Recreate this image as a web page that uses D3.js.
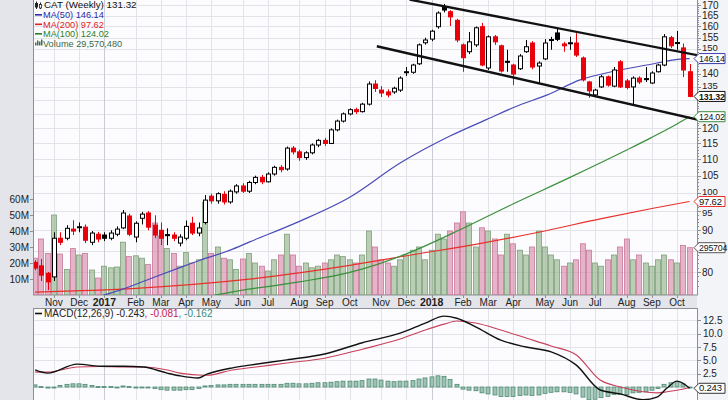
<!DOCTYPE html>
<html><head><meta charset="utf-8">
<script src="https://cdn.jsdelivr.net/npm/d3@7/dist/d3.min.js"></script>
<style>
html,body{margin:0;padding:0;background:#e3e5ea;}
svg{display:block;font-family:"Liberation Sans",Arial,sans-serif;}
</style></head><body>
<svg id="c" width="728" height="400"></svg>
<script>
// ---------- DATA ----------
const prevClose0 = 83.0;
const opens  = [82.2,81.4,79.7,78.9,88.0,88.0,90.3,90.9,90.8,87.0,89.0,88.8,88.0,89.0,90.6,93.7,88.3,93.1,94.5,91.3,90.0,88.9,88.8,86.8,88.0,91.8,89.3,92.0,
 99.1,97.8,99.6,97.5,100.3,102.0,100.5,103.0,104.5,103.2,105.5,107.5,107.0,113.5,112.3,110.5,112.0,114.5,116.0,115.0,119.5,122.5,125.0,126.5,125.8,128.5,136.0,
 133.7,133.0,133.0,133.7,140.8,140.6,144.0,152.8,154.4,159.9,169.0,166.8,162.8,151.9,149.0,151.9,159.9,142.3,155.4,151.5,145.0,143.5,142.0,149.0,152.7,143.1,
 146.0,154.2,157.1,152.3,152.8,152.7,146.4,136.8,131.9,134.9,138.8,135.2,144.8,137.2,134.9,138.3,138.1,136.4,140.8,143.5,155.0,152.9,150.6,140.8];
const highs  = [82.7,83.0,80.0,89.5,89.5,91.3,92.6,92.0,91.5,89.8,89.6,89.5,90.0,91.0,95.3,94.3,92.3,94.8,95.0,93.9,92.0,90.5,89.5,89.0,92.5,93.5,92.0,99.4,
 99.8,100.2,100.5,101.0,102.5,102.8,103.5,105.0,105.2,106.0,108.0,108.2,114.0,114.2,113.0,112.5,115.0,116.5,116.8,120.0,123.0,125.5,127.0,127.2,129.0,137.0,137.5,
 135.2,134.0,135.0,139.0,142.7,144.0,152.5,155.0,158.5,167.0,170.5,167.5,163.5,152.5,157.5,160.0,161.6,156.0,156.2,152.0,149.8,144.0,148.0,154.0,153.5,145.0,
 154.4,155.4,158.9,153.2,155.4,157.0,147.0,137.2,134.2,139.5,139.3,142.7,145.5,138.0,139.0,139.0,142.7,141.0,144.0,156.6,155.8,158.0,152.5,143.9];
const lows   = [80.4,78.0,76.0,78.0,86.3,87.5,88.8,89.5,86.8,86.3,87.0,87.3,87.5,88.5,90.3,88.5,87.0,91.5,90.0,88.0,86.3,86.3,87.3,86.0,87.5,88.8,88.5,91.5,
 97.0,97.0,96.8,97.0,99.8,100.0,100.0,102.5,102.5,103.0,105.0,106.0,106.5,111.5,109.5,109.8,111.5,113.8,114.2,114.8,119.0,122.0,124.5,125.0,125.5,128.0,133.0,
 131.1,131.0,132.3,133.0,139.1,140.0,143.5,152.0,153.5,159.0,166.5,160.2,153.0,140.8,148.0,151.0,143.0,141.5,151.9,140.5,140.8,135.6,141.5,148.5,141.8,136.4,
 145.5,149.8,153.5,149.0,149.8,146.8,137.0,130.8,131.5,134.5,135.0,134.8,134.5,134.0,128.2,136.0,136.8,136.0,140.5,143.0,150.5,149.8,138.7,131.0];
const closes = [80.9,79.3,77.8,88.0,87.0,90.5,89.8,90.8,87.5,89.3,87.8,88.0,89.3,90.3,94.5,89.0,91.8,94.2,90.8,88.8,88.0,88.8,88.0,88.3,91.0,89.3,90.6,98.0,
 97.8,99.8,97.5,100.5,102.0,100.5,103.0,104.5,103.2,105.5,107.5,106.8,113.5,112.3,110.5,112.0,114.5,116.0,115.0,119.5,122.5,125.0,126.5,125.8,128.5,136.0,134.3,
 132.6,131.9,134.4,138.3,140.6,143.5,151.9,154.0,157.9,166.2,167.6,164.4,154.0,146.5,153.2,159.4,143.5,155.4,153.2,141.1,144.7,139.9,147.2,151.1,142.7,144.3,
 152.7,154.0,154.3,151.5,152.6,147.6,137.6,133.4,133.7,138.8,135.6,141.5,134.9,134.7,138.3,136.8,137.9,140.3,143.5,155.4,151.5,152.7,141.5,131.32];
const volumes = [23,35,26,50,25.6,16,29,25,26,15.6,10.6,18,17,17.5,33,24,24.5,23,19,45,37,29,26,18,26.5,20,22,58,
 26,30,23,22,16,22.5,26,20,18,15,22,25,38,25,18,20,17,18,20,22,25,24,22,20,25,40,30,
 22,20,18,22,25,28,30,22,28,38,35,40,45,52,45,30,42,40,35,25,38,32,28,25,30,40,
 30,25,22,18,20,22,32,28,20,18,22,25,30,35,22,25,20,18,22,25,22,20,31,29.57];

// moving averages (bar index, value)
const ma50Idx = [10.8,13.5,18.3,23,26.2,31,34.1,42,50,58,66,71.8,77,81.3,86.6,91.8,97.2,102.5,104];
const ma50Val = [74.9,76.0,78.5,81.0,82.7,85.1,87.1,92.3,98.8,108.8,117.5,123.1,128.2,131.8,137.6,140.9,143.5,145.9,146.14];
const ma100Idx = [28,33,42,50,59,68,76,85,94,98,102,104];
const ma100Val = [74.8,76.0,77.8,79.9,84.2,90.5,97.0,104.5,112.9,117.0,121.5,124.02];
const ma200Idx = [0,16,34,50,60,70,80,90,98,104];
const ma200Val = [75.6,76.4,78.4,81.5,84.0,86.5,89.5,93.0,95.7,97.62];

// MACD lines (bar index, value)
const macdIdx = [0,2,6.7,10.3,14,17.2,21,23,25.9,27.3,31.4,34.1,40,46,52,58,62,65,67,70,74,78,82,86,89.8,93,96.6,98.8,100.4,102,104];
const macdVal = [3.2,2.6,4.3,3.9,3.9,3.75,2.6,2.1,1.7,2.4,3.6,4.1,5.1,6.2,8.3,10.1,12.0,13.3,12.9,11.3,8.8,7.5,6.6,4.1,-0.56,-1.3,-2.4,-1.9,-0.2,1.1,-0.243];
const signalVal = [2.8,2.8,3.75,3.85,3.75,3.75,3.2,2.6,2.25,2.2,3.2,3.6,4.5,5.4,7.1,9.0,10.7,11.8,12.4,12.0,10.7,9.2,7.7,6.0,1.3,0.0,-0.9,-1.1,-0.9,-0.6,-0.081];
const histVal = [0.4,0.1,-0.2,0.0,0.3,0.5,0.6,0.6,0.5,0.3,0.1,0.1,0.1,0.0,0.2,0.1,0.0,0.0,-0.1,-0.3,-0.5,-0.6,-0.6,-0.6,-0.5,-0.5,-0.3,0.2,
 0.3,0.4,0.4,0.5,0.5,0.5,0.5,0.5,0.5,0.5,0.5,0.5,0.7,0.7,0.6,0.6,0.7,0.8,0.8,0.9,1.0,1.1,1.1,1.1,1.2,1.5,1.5,
 1.3,1.1,1.0,1.1,1.1,1.2,1.5,1.7,1.9,2.1,2.0,1.4,0.5,-0.4,-0.6,-0.7,-1.1,-1.3,-1.5,-1.8,-1.8,-1.8,-1.6,-1.5,-1.6,-1.5,
 -1.2,-1.0,-0.9,-0.9,-1.0,-1.3,-1.9,-2.4,-2.3,-2.0,-1.8,-1.4,-1.4,-1.4,-1.1,-1.0,-0.9,-0.6,-0.3,0.5,0.8,1.0,0.6,-0.162];

// trend channel (bar index, price)
const upperLine = [[59.5,172.6],[106.3,147.0]];
const lowerLine = [[54.3,151.3],[106.3,122.5]];

const monthIdx = [3,7,11,16,20,24,28,33,37,42,46,50,55,59,63,68,72,76,81,85,89,94,98,102];
const monthLab = ["Nov","Dec","2017","Feb","Mar","Apr","May","Jun","Jul","Aug","Sep","Oct","Nov","Dec","2018","Feb","Mar","Apr","May","Jun","Jul","Aug","Sep","Oct"];
const priceTicks = [170,165,160,155,150,145,140,135,130,125,120,115,110,105,100,95,90,85,80];
const volTicks = [10,20,30,40,50,60];
const macdTicks = [12.5,10,7.5,5,2.5,0,-2.5];

// ---------- LAYOUT ----------
const svg = d3.select("#c");
const L = 33, R = 697, PB = 295, MT = 308, MB = 400;
const x = d3.scaleLinear().domain([0,104]).range([35.1,689.6]);
const yP = d3.scaleLog().domain([80,170]).range([272,5]);
const yV = d3.scaleLinear().domain([0,60]).range([295,199]);
const yM = d3.scaleLinear().domain([0,12.5]).range([387,320.4]);

const UP = "#000", DN = "#e8000b";
const prevC = i => i===0 ? prevClose0 : closes[i-1];

svg.append("rect").attr("x",0).attr("y",0).attr("width",728).attr("height",400).attr("fill","#e3e5ea");
svg.append("rect").attr("x",R).attr("y",0).attr("width",31).attr("height",400).attr("fill","#f3f4f7");
svg.append("rect").attr("x",L+0.5).attr("y",-1).attr("width",R-L).attr("height",PB+1).attr("fill","#fcfcfe").attr("stroke","#8c8f98");
svg.append("rect").attr("x",L+0.5).attr("y",MT+0.5).attr("width",R-L).attr("height",MB-MT+5).attr("fill","#fcfcfe").attr("stroke","#8c8f98");

const defs = svg.append("defs");
defs.append("clipPath").attr("id","cp").append("rect").attr("x",L+1).attr("y",0).attr("width",R-L-1).attr("height",PB);
defs.append("clipPath").attr("id","cm").append("rect").attr("x",L+1).attr("y",MT+1).attr("width",R-L-1).attr("height",MB-MT);

const gP = svg.append("g").attr("clip-path","url(#cp)");
const gM = svg.append("g").attr("clip-path","url(#cm)");

// grid
const gridC = "#e2e4ea";
priceTicks.forEach(t=>{
  gP.append("line").attr("x1",L).attr("x2",R).attr("y1",Math.round(yP(t))+0.5).attr("y2",Math.round(yP(t))+0.5).attr("stroke",gridC);
});
macdTicks.forEach(t=>{
  gM.append("line").attr("x1",L).attr("x2",R).attr("y1",Math.round(yM(t))+0.5).attr("y2",Math.round(yM(t))+0.5).attr("stroke",gridC);
});
monthIdx.forEach((m,k)=>{
  const xx = Math.round(x(m))+0.5;
  const c = /^\d/.test(monthLab[k]) ? "#c9ccd4" : gridC;
  gP.append("line").attr("x1",xx).attr("x2",xx).attr("y1",0).attr("y2",PB).attr("stroke",c);
  gM.append("line").attr("x1",xx).attr("x2",xx).attr("y1",MT).attr("y2",MB).attr("stroke",c);
});

// volume
closes.forEach((c,i)=>{
  const up = c >= prevC(i);
  const top = yV(volumes[i]);
  gP.append("rect").attr("x",Math.round(x(i))-2.5).attr("y",top).attr("width",5).attr("height",yV(0)-top)
    .attr("fill", up ? "rgba(140,175,130,0.6)" : "rgba(210,120,155,0.55)")
    .attr("stroke", up ? "#7fa07a" : "#c87898").attr("stroke-width",0.8);
});

// moving averages
const maLine = (idx, val, col) => {
  gP.append("path").datum(idx.map((d,k)=>[d,val[k]]))
    .attr("d", d3.line().x(d=>x(d[0])).y(d=>yP(d[1])).curve(d3.curveMonotoneX))
    .attr("fill","none").attr("stroke",col).attr("stroke-width",1.2);
};
maLine(ma200Idx, ma200Val, "#e8302a");
maLine(ma100Idx, ma100Val, "#3a8f3a");
maLine(ma50Idx, ma50Val, "#4a4ab8");

// candles
closes.forEach((c,i)=>{
  const o = opens[i], col = c >= prevC(i) ? UP : DN;
  const xc = Math.round(x(i));
  gP.append("line").attr("x1",xc+0.5).attr("x2",xc+0.5).attr("y1",yP(highs[i])).attr("y2",yP(lows[i])).attr("stroke",col).attr("stroke-width",1);
  const yt = yP(Math.max(o,c)), yb = yP(Math.min(o,c));
  const hollow = c > o;
  gP.append("rect").attr("x",xc-1.5).attr("y",Math.min(yt,yb)).attr("width",4).attr("height",Math.max(1,yb-yt))
    .attr("fill", hollow ? "#ffffff" : col).attr("stroke",col).attr("stroke-width",1);
});

// trend channel
[upperLine, lowerLine].forEach(ln=>{
  gP.append("line").attr("x1",x(ln[0][0])).attr("y1",yP(ln[0][1])).attr("x2",x(ln[1][0])).attr("y2",yP(ln[1][1]))
    .attr("stroke","#111").attr("stroke-width",2.4);
});

// MACD
histVal.forEach((h,i)=>{
  const y0 = yM(0), y1 = yM(h);
  gM.append("rect").attr("x",Math.round(x(i))-2).attr("y",Math.min(y0,y1)).attr("width",4).attr("height",Math.max(1,Math.abs(y1-y0)))
    .attr("fill","#9cc3b2").attr("stroke","#4f8a74").attr("stroke-width",0.8);
});
const mLine = (vals,col,w)=>{
  gM.append("path").datum(macdIdx.map((d,k)=>[d,vals[k]]))
    .attr("d", d3.line().x(d=>x(d[0])).y(d=>yM(d[1])).curve(d3.curveMonotoneX))
    .attr("fill","none").attr("stroke",col).attr("stroke-width",w);
};
mLine(signalVal,"#c8405a",1.1);
mLine(macdVal,"#111",1.4);

// ---------- AXES / TEXT ----------
const txt = (xx,yy,s,o={})=> svg.append("text").attr("x",xx).attr("y",yy).text(s)
  .attr("font-size",o.size||10).attr("fill",o.fill||"#222").attr("text-anchor",o.anchor||"start")
  .attr("font-weight",o.weight||"normal").attr("letter-spacing",o.ls||0);

const boxes = [
  {y:yP(146.14), s:"146.14", stroke:"#3b3bb0", bold:false},
  {y:yP(131.32), s:"131.32", stroke:"#111", bold:true},
  {y:yP(124.02), s:"124.02", stroke:"#3a8f3a", bold:false},
  {y:yP(97.62),  s:"97.62",  stroke:"#e8302a", bold:false},
  {y:yV(29.57),  s:"295704", stroke:"#555", bold:false},
  {y:yM(-0.243), s:"0.243",  stroke:"#333", bold:false}
];
const nearBox = yy => boxes.find(b=>Math.abs(b.y-yy) < 11);

// right price axis
svg.append("line").attr("x1",R+0.5).attr("x2",R+0.5).attr("y1",0).attr("y2",PB).attr("stroke","#8c8f98");
d3.range(77,172).forEach(v=>{
  const yy = Math.round(yP(v))+0.5;
  if (yy<0||yy>PB) return;
  svg.append("line").attr("x1",R).attr("x2",R+(v%5===0?4:2)).attr("y1",yy).attr("y2",yy).attr("stroke","#8c8f98");
});
priceTicks.forEach(t=> {
  const yy = yP(t), b = nearBox(yy);
  if (b && Math.abs(b.y-yy) < 7) return;          // hidden behind a value box
  const shift = b ? (yy < b.y ? -1.5 : 1.5) : 0;   // nudge away from a box edge
  txt(R+5, yy+3.5+shift, String(t), {size: b ? 9.5 : 10});
});

// volume axis left
volTicks.forEach(t=>{
  svg.append("line").attr("x1",L-3).attr("x2",L).attr("y1",Math.round(yV(t))+0.5).attr("y2",Math.round(yV(t))+0.5).attr("stroke","#8c8f98");
  txt(L-4, yV(t)+3.5, t+"M", {anchor:"end"});
});

// x labels
monthIdx.forEach((m,k)=>{
  const isY = /^\d/.test(monthLab[k]);
  txt(x(m), 306, monthLab[k], {anchor:"middle", weight: isY?"bold":"normal", size: isY?10.5:10, fill:"#222"});
  svg.append("line").attr("x1",Math.round(x(m))+0.5).attr("x2",Math.round(x(m))+0.5).attr("y1",PB).attr("y2",PB+3).attr("stroke","#8c8f98");
});

// MACD axis
svg.append("line").attr("x1",R+0.5).attr("x2",R+0.5).attr("y1",MT).attr("y2",MB).attr("stroke","#8c8f98");
macdTicks.forEach(t=>{
  const yy = Math.round(yM(t))+0.5;
  svg.append("line").attr("x1",R).attr("x2",R+4).attr("y1",yy).attr("y2",yy).attr("stroke","#8c8f98");
  if (t>0) txt(R+6, yM(t)+3.5, t.toFixed(1));
});

// value boxes
boxes.forEach(b=>{
  const h = 10, x0 = R-3, w = 31, yy = b.y;
  svg.append("path").attr("d",`M${x0},${yy} L${x0+5},${yy-h/2} L${x0+w},${yy-h/2} L${x0+w},${yy+h/2} L${x0+5},${yy+h/2} Z`)
    .attr("fill","#fff").attr("stroke",b.stroke).attr("stroke-width",1);
  txt(x0+5, yy+3.2, b.s, {fill:"#111", weight:b.bold?"bold":"normal", size: b.s.length>5 ? 8.8 : 9.5, ls:-0.2});
});

// legend
const lg = svg.append("g");
lg.append("line").attr("x1",36.5).attr("x2",36.5).attr("y1",1.5).attr("y2",9).attr("stroke","#222");
lg.append("rect").attr("x",35).attr("y",3).attr("width",3).attr("height",4.5).attr("fill","#222");
lg.append("line").attr("x1",40.5).attr("x2",40.5).attr("y1",2.5).attr("y2",9).attr("stroke","#222");
lg.append("rect").attr("x",39.5).attr("y",4.5).attr("width",2).attr("height",3.5).attr("fill","#fff").attr("stroke","#222").attr("stroke-width",0.8);
txt(44, 8.4, "CAT (Weekly) 131.32", {fill:"#111", size:9.8});
const legs = [["MA(50) 146.14","#2b2ba8",18.0],["MA(200) 97.62","#e0201a",27.5],["MA(100) 124.02","#2a7f2a",37.0]];
legs.forEach(([s,c,yy])=>{
  lg.append("line").attr("x1",35).attr("x2",42).attr("y1",yy-3.2).attr("y2",yy-3.2).attr("stroke",c).attr("stroke-width",1.6);
  txt(43, yy, s, {fill:c, size:9.2});
});
[[35,3],[37,5],[39,4],[41,6]].forEach(([bx,bh])=> lg.append("rect").attr("x",bx).attr("y",45.5-bh).attr("width",1.5).attr("height",bh).attr("fill","#4a6a4a"));
txt(43, 46.5, "Volume 29,570,480", {fill:"#3d6b3d", size:9.2});

// MACD legend
svg.append("line").attr("x1",35).attr("x2",42).attr("y1",313.5).attr("y2",313.5).attr("stroke","#111").attr("stroke-width",1.6);
const ml = svg.append("text").attr("x",44).attr("y",317).attr("font-size",10);
ml.append("tspan").attr("fill","#222").text("MACD(12,26,9) -0.243");
ml.append("tspan").attr("fill","#c02050").text(", -0.081");
ml.append("tspan").attr("fill","#3a8a7a").text(", -0.162");
</script>
</body></html>
